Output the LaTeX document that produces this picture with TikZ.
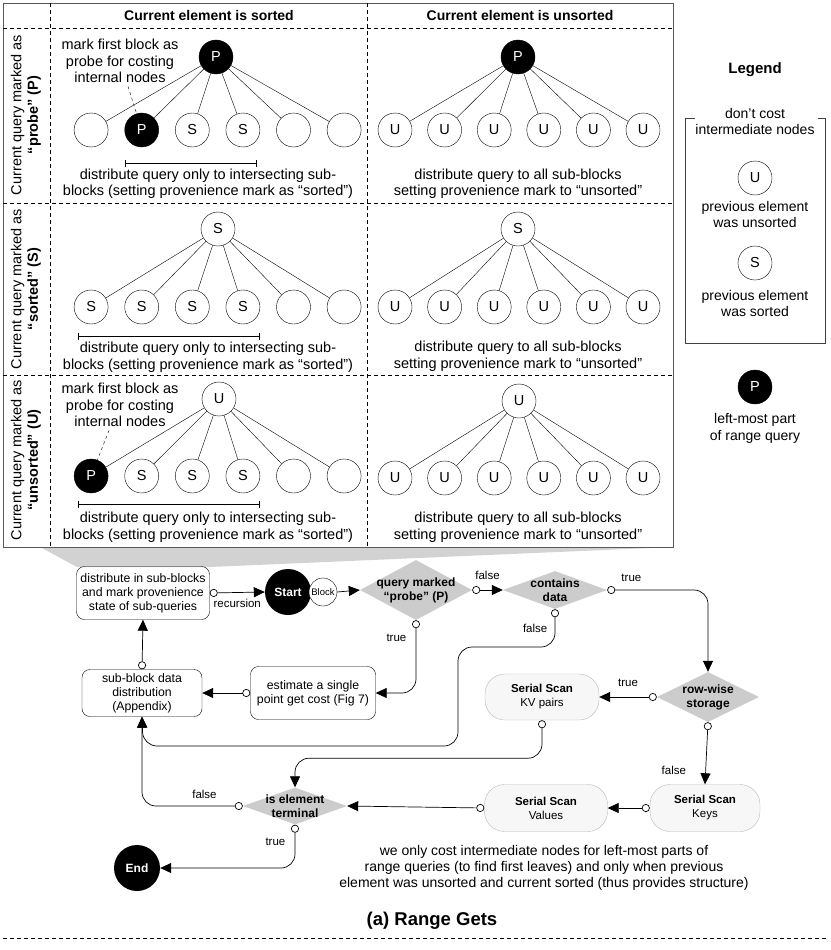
\documentclass[tikz,border=0pt]{standalone}
\usepackage{fontspec}
\setmainfont{Liberation Sans}
\usetikzlibrary{arrows.meta,shapes.geometric,calc}

\begin{document}
\begin{tikzpicture}[
    x=1pt,y=-1pt,
    font=\fontsize{14.5}{16.5}\selectfont,
    leaf/.style={circle,draw=black,minimum size=34pt,inner sep=0pt},
    probe/.style={leaf,fill=black,text=white},
    note/.style={align=center},
    grid/.style={dash pattern=on 4pt off 3pt,line width=0.6pt},
    span/.style={{Bar[width=7pt]}-{Bar[width=7pt]},line width=0.6pt},
    procbox/.style={rectangle,rounded corners=8pt,draw=black,align=center,inner sep=1pt,font=\fontsize{12.3}{14}\selectfont},
    scanbox/.style={rectangle,rounded corners=20pt,draw=gray!55,fill=gray!6,align=center,font=\fontsize{11.5}{14}\selectfont},
    decision/.style={diamond,fill=gray!40,inner sep=-14pt,align=center,font=\fontsize{12}{14}\selectfont\bfseries},
    terminal/.style={circle,fill=black,text=white,minimum size=46pt,inner sep=0pt,font=\fontsize{12}{14}\selectfont\bfseries},
    flowlbl/.style={font=\fontsize{11.5}{13}\selectfont},
    flow/.style={{Circle[open,length=8pt]}-{Triangle[length=11pt,width=10pt]},line width=0.7pt,rounded corners=14pt},
    arrow/.style={-{Triangle[length=11pt,width=10pt]},line width=0.7pt}
]
\useasboundingbox (0,0) rectangle (830,950);

% Zoom wedge
\fill[gray!35] (40,547) -- (673,547) -- (210,567) -- (77,567) -- cycle;

% Table
\draw[black!65,line width=0.8pt] (3,3) rectangle (673,547);
\draw[grid] (50,3) -- (50,547);
\draw[grid] (367,3) -- (367,547);
\draw[grid] (3,28) -- (673,28);
\draw[grid] (3,203) -- (673,203);
\draw[grid] (3,375) -- (673,375);

\node[font=\fontsize{14}{16}\selectfont\bfseries] (hsort) at (209,15) {Current element is sorted};
\node[font=\fontsize{14}{16}\selectfont\bfseries] (hunsort) at (520,15) {Current element is unsorted};

\node[rotate=90,align=center] (rowp) at (26,115) {Current query marked as\\\textbf{“probe” (P)}};
\node[rotate=90,align=center] (rows) at (26,289) {Current query marked as\\\textbf{“sorted” (S)}};
\node[rotate=90,align=center] (rowu) at (26,460) {Current query marked as\\\textbf{“unsorted” (U)}};

% Row 1: probe
\node[probe] (pa) at (216,57) {P};
\foreach \i/\lbl/\sty in {1//leaf,2/P/probe,3/S/leaf,4/S/leaf,5//leaf,6//leaf}
  \node[\sty] (pa\i) at ({40.5+50.6*\i},130) {\lbl};
\node[probe] (pb) at (518,57) {P};
\foreach \i in {1,...,6}
  \node[leaf] (pb\i) at ({345.4+49.6*\i},130) {U};
\foreach \i in {1,...,6} {
  \draw (pa) -- (pa\i);
  \draw (pb) -- (pb\i);
}
\node[note] (notep) at (120,61) {mark first block as\\probe for costing\\internal nodes};
\draw[dashed] ([xshift=8pt]notep.south) -- (pa2);
\draw[span] (125,163) -- (257,163);
\node[note] (txtpa) at (208,183.5) {distribute query only to intersecting sub-\\blocks (setting provenience mark as “sorted”)};
\node[note] (txtpb) at (518,183.5) {distribute query to all sub-blocks\\setting provenience mark to “unsorted”};

% Row 2: sorted
\node[leaf] (sa) at (218,229) {S};
\foreach \i/\lbl in {1/S,2/S,3/S,4/S,5/,6/}
  \node[leaf] (sa\i) at ({40.5+50.6*\i},307) {\lbl};
\node[leaf] (sb) at (518,229) {S};
\foreach \i in {1,...,6}
  \node[leaf] (sb\i) at ({345.4+49.6*\i},307) {U};
\foreach \i in {1,...,6} {
  \draw (sa) -- (sa\i);
  \draw (sb) -- (sb\i);
}
\draw[span] (78,336) -- (260,336);
\node[note] (txtsa) at (208,357) {distribute query only to intersecting sub-\\blocks (setting provenience mark as “sorted”)};
\node[note] (txtsb) at (518,356) {distribute query to all sub-blocks\\setting provenience mark to “unsorted”};

% Row 3: unsorted
\node[leaf] (ua) at (219,399) {U};
\foreach \i/\lbl/\sty in {1/P/probe,2/S/leaf,3/S/leaf,4/S/leaf,5//leaf,6//leaf}
  \node[\sty] (ua\i) at ({40.5+50.6*\i},476) {\lbl};
\node[leaf] (ub) at (519,401) {U};
\foreach \i in {1,...,6}
  \node[leaf] (ub\i) at ({345.4+49.6*\i},478) {U};
\foreach \i in {1,...,6} {
  \draw (ua) -- (ua\i);
  \draw (ub) -- (ub\i);
}
\node[note] (noteu) at (120,405) {mark first block as\\probe for costing\\internal nodes};
\draw[dashed] ([xshift=-11pt]noteu.south) -- (ua1);
\draw[span] (78,504) -- (260,504);
\node[note] (txtua) at (208,527) {distribute query only to intersecting sub-\\blocks (setting provenience mark as “sorted”)};
\node[note] (txtub) at (518,527) {distribute query to all sub-blocks\\setting provenience mark to “unsorted”};

% Legend
\node[font=\fontsize{15}{17}\selectfont\bfseries] (legend) at (755,70) {Legend};
\draw[black!75,line width=0.7pt] (695,118) -- (685,118) -- (685,343) -- (825,343) -- (825,118) -- (818,118);
\node[note,font=\fontsize{14}{16.5}\selectfont] (lgcost) at (755,121.5) {don’t cost\\intermediate nodes};
\node[leaf] (lgu) at (755,178) {U};
\node[note,font=\fontsize{14}{16.5}\selectfont] (lgutxt) at (755,214.5) {previous element\\was unsorted};
\node[leaf] (lgs) at (755,263) {S};
\node[note,font=\fontsize{14}{16.5}\selectfont] (lgstxt) at (755,303.5) {previous element\\was sorted};
\node[probe] (lgp) at (755,387) {P};
\node[note,font=\fontsize{14}{16.5}\selectfont] (lgptxt) at (755,428.5) {left-most part\\of range query};

% Flowchart
\node[procbox,minimum width=133pt,minimum height=53pt] (distr) at (143,593) {distribute in sub-blocks\\and mark provenience\\state of sub-queries};
\node[terminal] (start) at (288,592) {Start};
\node[circle,draw=black,fill=white,minimum size=28pt,inner sep=0pt,font=\fontsize{9.5}{11}\selectfont] (block) at (323,592) {Block};
\node[decision,minimum width=112pt,minimum height=60pt] (probeq) at (416,590) {query marked\\“probe” (P)};
\node[decision,minimum width=104pt,minimum height=38pt] (contains) at (555,590) {contains\\data};
\node[decision,minimum width=102pt,minimum height=50pt] (rowwise) at (708,697) {row-wise\\storage};
\node[scanbox,minimum width=114pt,minimum height=46pt] (kv) at (542,697) {\textbf{Serial Scan}\\KV pairs};
\node[procbox,minimum width=120pt,minimum height=47pt] (subblk) at (142,693) {sub-block data\\distribution\\(Appendix)};
\node[procbox,minimum width=125pt,minimum height=53pt] (estim) at (313,693) {estimate a single\\point get cost (Fig 7)};
\node[scanbox,minimum width=110pt,minimum height=47pt] (keys) at (705,808) {\textbf{Serial Scan}\\Keys};
\node[scanbox,minimum width=123pt,minimum height=47pt] (values) at (546,808) {\textbf{Serial Scan}\\Values};
\node[decision,minimum width=104pt,minimum height=37pt] (term) at (295,806) {is element\\terminal};
\node[terminal] (end) at (137,868) {End};

\draw[flow] (distr.east) -- node[flowlbl,below=3pt] {recursion} (start.west);
\draw[arrow] (block.east) -- (probeq.west);
\draw[flow] (probeq.east) -- node[flowlbl,above=7pt] {false} (contains.west);
\draw[flow] (contains.east) -| node[flowlbl,pos=0.12,above=5pt] {true} (rowwise.north);
\draw[flow] (rowwise.west) -- node[flowlbl,above=7pt] {true} (kv.east);
\draw[flow] (rowwise.south) -- node[flowlbl,pos=0.77,left=16pt] {false} (keys.north);
\draw[flow] (keys.west) -- (values.east);
\draw[flow] (values.west) -- (term.east);
\draw[flow] (term.west) -| node[flowlbl,pos=0.19,above=4pt] {false} (subblk.south);
\draw[flow] (contains.south) |- node[flowlbl,pos=0.25,left=4pt] {false} (458,647) |- (143,746) -- (subblk.south);
\draw[flow] (probeq.south) |- node[flowlbl,pos=0.12,left=6pt] {true} (estim.east);
\draw[flow] (estim.west) -- (subblk.east);
\draw[flow] (subblk.north) -- (distr.south);
\draw[flow] (kv.south) -- ++(0,38) -| (term.north);
\draw[flow] (term.south) |- node[flowlbl,pos=0.2,left=6pt] {true} (end.east);

% Notes
\node[note,font=\fontsize{14}{16}\selectfont] (footnote) at (544,868) {we only cost intermediate nodes for left-most parts of\\range queries (to find first leaves) and only when previous\\element was unsorted and current sorted (thus provides structure)};
\node[font=\fontsize{18.5}{21}\selectfont\bfseries] (caption) at (432,921) {(a) Range Gets};
\draw[grid,line width=0.5pt] (3,938) -- (827,938);
\end{tikzpicture}
\end{document}
